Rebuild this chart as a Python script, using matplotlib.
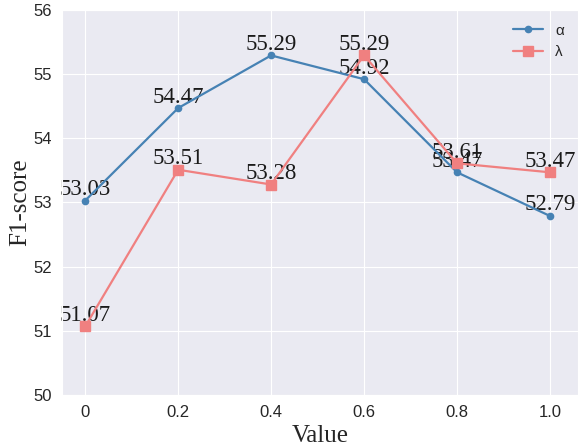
import matplotlib
matplotlib.use("Agg")
import matplotlib.pyplot as plt
import seaborn as sns

x_vals = [0, 0.2, 0.4, 0.6, 0.8, 1.0]
x_labels = ["0", "0.2", "0.4", "0.6", "0.8", "1.0"]
alpha_f1 = [53.03, 54.47, 55.29, 54.92, 53.47, 52.79]
lambda_f1 = [51.07, 53.51, 53.28, 55.29, 53.61, 53.47]

sns.set_style("darkgrid")
plt.rcParams['font.family'] = ['Liberation Sans', 'DejaVu Sans']

fig, ax = plt.subplots(figsize=(5.79, 4.47), dpi=100)

ax.plot(x_vals, alpha_f1, color="steelblue", marker="o", markersize=4.5, linewidth=1.6, label="α", zorder=3)
ax.plot(x_vals, lambda_f1, color="lightcoral", marker="s", markersize=7.5, linewidth=1.6, label="λ", zorder=3)

# value labels, serif like the axis titles, drawn under the lines
for series in (alpha_f1, lambda_f1):
    for x, y in zip(x_vals, series):
        ax.annotate(f"{y:.2f}", (x, y), xytext=(0, 4), textcoords="offset points",
                    ha="center", va="baseline", fontsize=16.5, family="Liberation Serif",
                    color="#1a1a1a", zorder=2)

ax.set_xlim(-0.05, 1.06)
ax.set_ylim(50, 56)
ax.set_xticks(x_vals)
ax.set_xticklabels(x_labels)
ax.tick_params(labelsize=12)
ax.set_xlabel("Value", fontsize=18, family="Liberation Serif")
ax.set_ylabel("F1-score", fontsize=18, family="Liberation Serif", labelpad=2)
ax.legend(loc="upper right", frameon=False, fontsize=11)

fig.subplots_adjust(left=0.107, right=0.998, top=0.978, bottom=0.116)
fig.savefig("out.png", dpi=100)
